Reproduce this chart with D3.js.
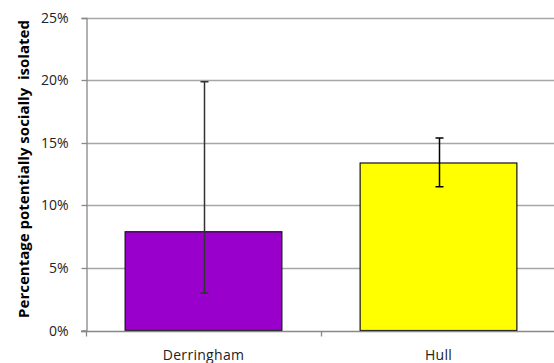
<!DOCTYPE html>
<html><head><meta charset="utf-8">
<script src="https://cdn.jsdelivr.net/npm/d3@7"></script>
<style>body{margin:0;background:#fff}svg{display:block}</style>
</head><body>
<script>
const categories = ["Derringham", "Hull"];
const values = [0.079, 0.134];
const errLow = [0.030, 0.115];
const errHigh = [0.199, 0.154];
const colors = ["#9900CC", "#FFFF00"];
const yTicks = [0, 0.05, 0.10, 0.15, 0.20, 0.25];
const yTitle = "Percentage potentially socially  isolated";

const W = 554, H = 363;
const FONT = "'Open Sans', 'Liberation Sans', Arial, sans-serif";
const m = {left: 86, right: -2, top: 18, bottom: 32.5};
const svg = d3.select("body").append("svg").attr("width", W).attr("height", H);
const x = d3.scaleBand().domain(categories).range([m.left, W - m.right]).paddingInner(0.333).paddingOuter(0.1665);
const x0 = d3.scaleBand().domain(categories).range([m.left, W - m.right]);
const y = d3.scaleLinear().domain([0, 0.25]).range([H - m.bottom, m.top]);

// gridlines
svg.append("g").selectAll("line").data(yTicks.slice(1)).join("line")
  .attr("x1", m.left).attr("x2", W).attr("y1", d => Math.round(y(d)) + 0.5).attr("y2", d => Math.round(y(d)) + 0.5)
  .attr("stroke", "#A6A6A6").attr("stroke-width", 1.3);

// y axis
const ya = svg.append("g").attr("transform", `translate(${m.left + 0.5},0)`)
  .call(d3.axisLeft(y).tickValues(yTicks).tickFormat(d3.format(".0%")).tickSize(5).tickPadding(13));
ya.select(".domain").attr("stroke", "#888").attr("stroke-width", 1.3);
ya.selectAll(".tick line").attr("stroke", "#888").attr("stroke-width", 1.3);
ya.selectAll(".tick text").attr("font-family", FONT).attr("font-size", 14).attr("fill", "#222");
ya.selectAll(".tick").attr("transform", d => `translate(0,${Math.round(y(d)) + 0.5})`);

// bars
svg.append("g").selectAll("rect").data(categories).join("rect")
  .attr("x", d => x(d)).attr("width", x.bandwidth())
  .attr("y", (d, i) => y(values[i])).attr("height", (d, i) => y(0) - y(values[i]))
  .attr("fill", (d, i) => colors[i]).attr("stroke", "#111").attr("stroke-width", 1.2);

// x axis
const xa = svg.append("g").attr("transform", `translate(0,${Math.round(y(0)) + 0.5})`);
xa.append("line").attr("x1", m.left - 5).attr("x2", W).attr("stroke", "#888").attr("stroke-width", 1.3);
const bounds = [m.left].concat(categories.map(c => x0(c) + x0.bandwidth()));
xa.selectAll(".tk").data(bounds).join("line").attr("class", "tk")
  .attr("x1", d => Math.round(d) + 0.5).attr("x2", d => Math.round(d) + 0.5).attr("y1", 0).attr("y2", 5)
  .attr("stroke", "#888").attr("stroke-width", 1.3);
xa.selectAll("text").data(categories).join("text")
  .attr("x", d => x(d) + x.bandwidth() / 2).attr("y", 28)
  .attr("text-anchor", "middle").attr("font-family", FONT)
  .attr("font-size", 14).attr("letter-spacing", 0.3).attr("fill", "#222").text(d => d);

// error bars
const eb = svg.append("g");
categories.forEach((c, i) => {
  const cx = Math.round(x(c) + x.bandwidth() / 2) + 0.5;
  const col = i === 0 ? "#333" : "#000";
  eb.append("line").attr("x1", cx).attr("x2", cx).attr("y1", y(errLow[i])).attr("y2", y(errHigh[i])).attr("stroke", col).attr("stroke-width", 1.5);
  [errLow[i], errHigh[i]].forEach(v => {
    eb.append("line").attr("x1", cx - 4).attr("x2", cx + 4).attr("y1", y(v)).attr("y2", y(v)).attr("stroke", col).attr("stroke-width", 1.5);
  });
});

// y axis title
const t = svg.append("text").attr("transform", `translate(29,169) rotate(-90)`)
  .attr("text-anchor", "middle").attr("font-family", FONT)
  .attr("font-size", 13).attr("font-weight", "bold").attr("fill", "#000")
  .attr("xml:space", "preserve").style("white-space", "pre")
  .text(yTitle);
const len = t.node().getComputedTextLength();
t.attr("font-size", 13 * 298 / len);
</script>
</body></html>
